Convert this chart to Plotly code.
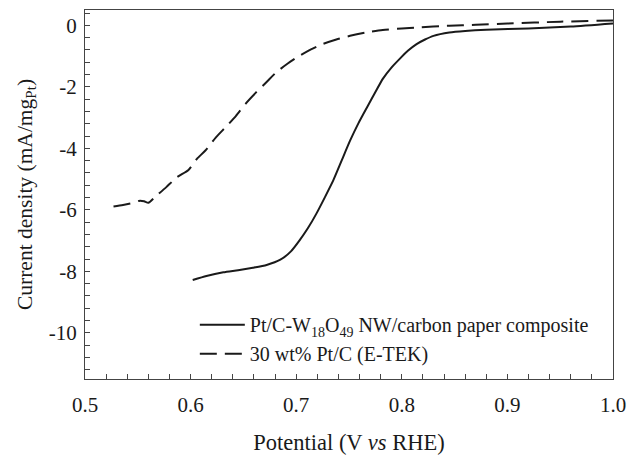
import plotly.graph_objects as go

solid_v = [0.602, 0.615, 0.631, 0.645, 0.659, 0.672, 0.685, 0.695, 0.703, 0.711, 0.719, 0.727,
           0.735, 0.743, 0.751, 0.759, 0.767, 0.775, 0.782, 0.790, 0.798, 0.806, 0.814, 0.822,
           0.830, 0.845, 0.860, 0.880, 0.920, 0.960, 1.000]
solid_j = [-8.28, -8.15, -8.03, -7.96, -7.88, -7.79, -7.62, -7.35, -7.00, -6.60, -6.13, -5.60,
           -5.05, -4.40, -3.75, -3.18, -2.67, -2.17, -1.74, -1.38, -1.09, -0.82, -0.61, -0.46,
           -0.34, -0.23, -0.18, -0.14, -0.10, -0.04, 0.06]

dash_v = [0.527, 0.536, 0.546, 0.552, 0.556, 0.560, 0.566, 0.577, 0.587, 0.598, 0.606, 0.614,
          0.624, 0.634, 0.643, 0.652, 0.662, 0.672, 0.681, 0.692, 0.703, 0.714, 0.725, 0.738,
          0.751, 0.766, 0.782, 0.800, 0.814, 0.845, 0.870, 0.900, 0.950, 1.000]
dash_j = [-5.89, -5.84, -5.77, -5.70, -5.72, -5.77, -5.59, -5.26, -4.94, -4.70, -4.34, -4.07,
          -3.64, -3.28, -2.94, -2.55, -2.18, -1.84, -1.53, -1.24, -0.99, -0.78, -0.61, -0.46,
          -0.34, -0.23, -0.15, -0.10, -0.07, -0.01, 0.02, 0.06, 0.12, 0.16]

x_ticks = [0.5, 0.6, 0.7, 0.8, 0.9, 1.0]
x_tick_text = ["0.5", "0.6", "0.7", "0.8", "0.9", "1.0"]
y_ticks = [0, -2, -4, -6, -8, -10]
y_tick_text = ["0", "-2", "-4", "-6", "-8", "-10"]

name_solid = "Pt/C-W<sub>18</sub>O<sub>49</sub> NW/carbon paper composite"
name_dash = "30 wt% Pt/C (E-TEK)"

FONT = "Liberation Serif"
ink = "#1a1a1a"
frame = "#444"

fig = go.Figure()
fig.add_trace(go.Scatter(x=solid_v, y=solid_j, mode="lines", name=name_solid,
                         line=dict(color=ink, width=2, shape="spline", smoothing=0.6)))
fig.add_trace(go.Scatter(x=dash_v, y=dash_j, mode="lines", name=name_dash,
                         line=dict(color=ink, width=2, dash="17px,8px", shape="spline", smoothing=0.6)))

axis_common = dict(showgrid=False, zeroline=False, showline=True, linecolor=frame, linewidth=1.3,
                   mirror=True, ticks="inside", ticklen=5, tickwidth=1, tickcolor=frame,
                   automargin=False,
                   tickfont=dict(family=FONT, size=21, color=ink))

fig.update_xaxes(range=[0.5, 1.0], tickvals=x_ticks, ticktext=x_tick_text,
                 minor=dict(dtick=0.02, ticks="inside", ticklen=5, tickcolor=frame, tick0=0.5),
                 ticklabelstandoff=7,
                 title=dict(text="Potential (V <i>vs</i> RHE)", font=dict(family=FONT, size=22.5, color=ink),
                            standoff=20),
                 **axis_common)
fig.update_yaxes(range=[-11.5, 0.5], tickvals=y_ticks, ticktext=y_tick_text,
                 minor=dict(dtick=0.4, ticks="inside", ticklen=5, tickcolor=frame, tick0=0),
                 ticklabelstandoff=3,
                 title=dict(text="Current density (mA/mg<sub>Pt</sub>)", font=dict(family=FONT, size=21.5, color=ink),
                            standoff=10),
                 **axis_common)

fig.update_layout(
    width=630, height=455,
    margin=dict(l=85, r=17, t=10, b=76),
    plot_bgcolor="white", paper_bgcolor="white",
    font=dict(family=FONT, color=ink),
    showlegend=True,
    legend=dict(x=0.208, y=0.108, xanchor="left", yanchor="middle",
                bgcolor="rgba(0,0,0,0)", font=dict(family=FONT, size=20, color=ink),
                itemwidth=45, tracegroupgap=0),
)

fig.write_html("out.html", config={"displayModeBar": False},
               post_script="document.body.style.margin='0px';document.body.style.padding='0px';")
